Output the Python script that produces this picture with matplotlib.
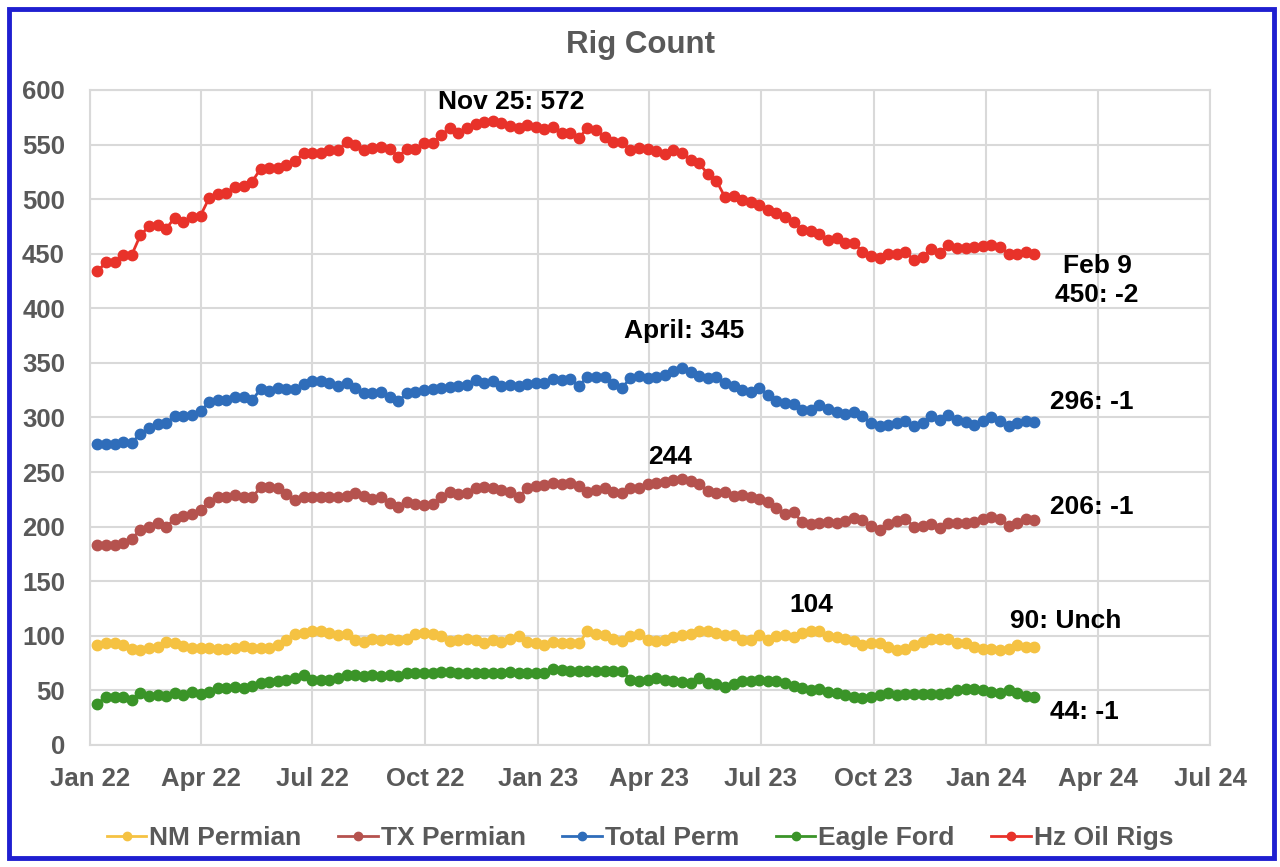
import matplotlib
matplotlib.use("Agg")
import matplotlib.pyplot as plt
import matplotlib.dates as mdates
import matplotlib.patches as patches
import pandas as pd

# weekly rig counts, Jan 7 2022 .. Feb 9 2024
weeks = pd.date_range("2022-01-07", periods=110, freq="7D")

hz_oil = [434, 442, 442, 449, 449, 467, 475, 476, 473, 483, 479, 484, 485, 501, 505, 506, 511, 512, 516, 528,
          529, 529, 531, 535, 542, 542, 542, 545, 545, 552, 550, 545, 547, 548, 546, 539, 546, 546, 551, 551,
          559, 565, 561, 565, 569, 571, 572, 570, 567, 565, 568, 566, 564, 566, 561, 561, 556, 565, 563, 557,
          552, 552, 545, 547, 546, 544, 541, 545, 542, 536, 533, 523, 517, 502, 503, 499, 497, 495, 490, 487,
          484, 479, 472, 471, 468, 463, 464, 460, 460, 452, 448, 446, 450, 450, 452, 444, 447, 454, 451, 458,
          455, 455, 456, 457, 458, 456, 450, 450, 452, 450]

total_perm = [276, 276, 276, 278, 277, 285, 290, 294, 295, 301, 301, 302, 306, 314, 316, 316, 319, 319, 316, 326,
              324, 327, 326, 326, 331, 333, 333, 332, 329, 332, 327, 322, 322, 323, 319, 315, 322, 323, 325, 326,
              327, 328, 329, 330, 334, 332, 333, 329, 330, 329, 331, 332, 332, 335, 334, 335, 329, 337, 337, 337,
              331, 327, 336, 338, 336, 337, 339, 343, 345, 342, 338, 336, 337, 332, 329, 325, 323, 327, 321, 315,
              313, 312, 307, 307, 311, 308, 305, 303, 305, 301, 295, 292, 293, 295, 297, 292, 295, 301, 298, 302,
              298, 296, 293, 297, 300, 297, 292, 295, 297, 296]

tx_perm = [183, 183, 183, 185, 189, 197, 200, 203, 200, 207, 210, 212, 215, 223, 227, 227, 229, 227, 227, 236,
           236, 235, 230, 224, 227, 227, 227, 227, 227, 228, 231, 228, 225, 227, 222, 218, 223, 221, 220, 221,
           227, 232, 230, 231, 235, 236, 235, 234, 232, 227, 235, 237, 238, 240, 239, 240, 237, 232, 234, 235,
           232, 231, 235, 235, 239, 240, 241, 243, 244, 242, 239, 233, 231, 232, 228, 229, 227, 225, 223, 217,
           212, 213, 204, 202, 203, 204, 203, 205, 208, 206, 201, 197, 202, 205, 207, 200, 201, 202, 199, 203,
           203, 203, 204, 207, 209, 207, 201, 203, 207, 206]

nm_perm = [92, 93, 93, 92, 88, 87, 89, 90, 94, 93, 91, 89, 89, 89, 88, 88, 89, 91, 89, 89,
           89, 92, 96, 102, 103, 104, 104, 103, 101, 102, 96, 94, 97, 96, 97, 96, 97, 102, 103, 102,
           100, 95, 96, 97, 96, 93, 96, 94, 97, 100, 94, 93, 92, 94, 93, 93, 93, 104, 102, 101,
           97, 95, 100, 102, 96, 95, 96, 99, 101, 102, 104, 104, 103, 101, 101, 96, 96, 101, 96, 100,
           101, 99, 103, 104, 104, 100, 99, 97, 95, 92, 93, 93, 90, 87, 88, 92, 94, 97, 97, 97,
           93, 93, 90, 88, 88, 87, 88, 92, 90, 90]

eagle_ford = [38, 44, 44, 44, 41, 48, 45, 46, 45, 48, 46, 49, 47, 49, 52, 52, 53, 52, 54, 57,
              58, 59, 60, 61, 64, 60, 60, 60, 61, 64, 64, 63, 64, 63, 64, 63, 66, 66, 66, 66,
              67, 67, 66, 66, 66, 66, 66, 66, 67, 66, 66, 66, 66, 70, 69, 68, 68, 68, 68, 68,
              68, 68, 60, 59, 60, 61, 60, 59, 58, 57, 61, 57, 56, 53, 56, 59, 59, 60, 59, 59,
              57, 54, 52, 50, 51, 49, 48, 46, 44, 43, 44, 46, 48, 46, 47, 47, 47, 47, 47, 48,
              50, 51, 51, 50, 49, 48, 50, 48, 45, 44]

series = [
    ("NM Permian", nm_perm, "#F5C242"),
    ("TX Permian", tx_perm, "#B5524E"),
    ("Total Perm", total_perm, "#2F6DBA"),
    ("Eagle Ford", eagle_ford, "#3A9428"),
    ("Hz Oil Rigs", hz_oil, "#E8322A"),
]

arial = ["Liberation Sans", "DejaVu Sans"]
gray = "#595959"

fig = plt.figure(figsize=(12.8, 8.67), dpi=100)
ax = fig.add_axes([90 / 1280, 1 - 745 / 867, 1120 / 1280, 655 / 867])

for name, vals, col in series:
    ax.plot(weeks, vals, "-o", color=col, lw=2, ms=7.5, mec=col, label=name)

ax.set_ylim(0, 600)
ax.set_yticks(range(0, 601, 50))
ax.set_xlim(pd.Timestamp("2022-01-01"), pd.Timestamp("2024-07-01"))
ax.xaxis.set_major_locator(mdates.MonthLocator(bymonth=[1, 4, 7, 10]))
ax.xaxis.set_major_formatter(mdates.DateFormatter("%b %y"))
ax.grid(True, color="#d9d9d9", lw=1.5)
ax.set_axisbelow(True)
for s in ax.spines.values():
    s.set_color("#d9d9d9")
    s.set_linewidth(1.5)
ax.tick_params(axis="x", length=0, pad=16, colors=gray)
ax.tick_params(axis="y", length=0, pad=18, colors=gray)
for lab in ax.get_xticklabels() + ax.get_yticklabels():
    lab.set_fontfamily(arial)
    lab.set_fontweight("bold")
    lab.set_fontsize(18.5)
    lab.set_color(gray)

fig.text(0.5, 1 - 45 / 867, "Rig Count", ha="center", va="center", fontsize=22.5,
         fontweight="bold", color=gray, family=arial)

# annotations
note = dict(fontsize=19, fontweight="bold", color="black", family=arial, va="center")
day = pd.Timedelta(days=1)
last = weeks[109]
ax.text(weeks[46] + 15 * day, 589, "Nov 25: 572", ha="center", **note)
ax.text(weeks[68] + 2 * day, 379, "April: 345", ha="center", **note)
ax.text(weeks[68] - 10 * day, 264, "244", ha="center", **note)
ax.text(weeks[83], 128, "104", ha="center", **note)
ax.text(last + 23 * day, 439, "Feb 9", ha="left", **note)
ax.text(last + 17 * day, 412, "450: -2", ha="left", **note)
ax.text(last + 13 * day, 314, "296: -1", ha="left", **note)
ax.text(last + 13 * day, 218, "206: -1", ha="left", **note)
ax.text(last - 20 * day, 114, "90: Unch", ha="left", **note)
ax.text(last + 13 * day, 30, "44: -1", ha="left", **note)

leg = fig.legend(loc="center", bbox_to_anchor=(0.5, 1 - 838 / 867), ncol=5, frameon=False,
                 handlelength=1.5, handletextpad=0.1, columnspacing=1.4, markerscale=0.8,
                 prop={"family": arial, "weight": "bold", "size": 19})
for t in leg.get_texts():
    t.set_color(gray)

# blue outer border
fig.patches.append(patches.Rectangle((9 / 1280, 1 - 858 / 867), 1265 / 1280, 849 / 867,
                                     transform=fig.transFigure, fill=False,
                                     edgecolor="#1f1fd0", lw=3.5))

fig.savefig("out.png", dpi=100)
